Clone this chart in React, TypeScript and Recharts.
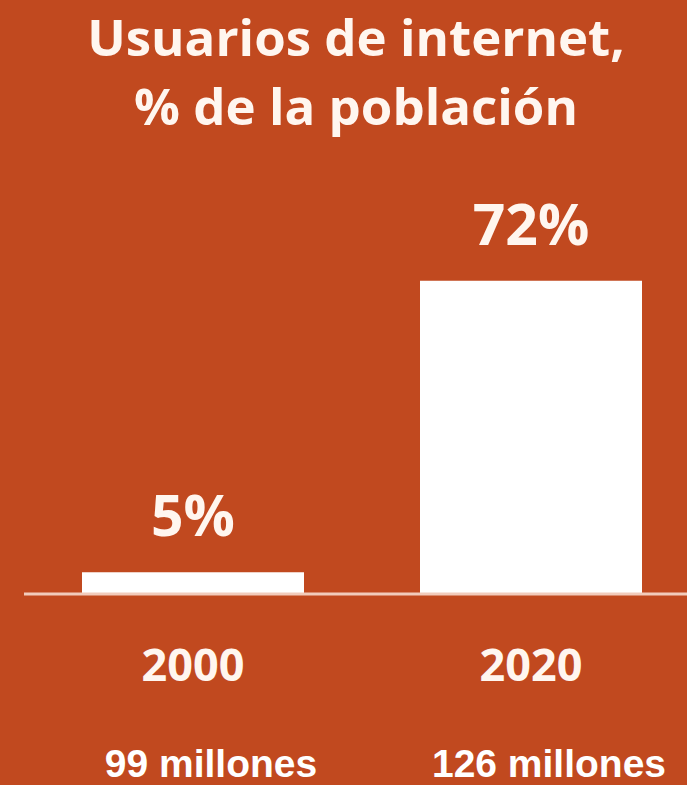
import React from 'react';
import { BarChart, Bar, XAxis, YAxis, LabelList } from 'recharts';

const categories = ['2000', '2020'];
const percentValues = [5, 72];
const populationLabels = ['99 millones', '126 millones'];
const titleLines = ['Usuarios de internet,', '% de la población'];

const data = categories.map((c, i) => ({
  year: c,
  value: percentValues[i],
  population: populationLabels[i],
}));

const BG = '#C1491F';
const TITLE_FONT = '"Open Sans", "DejaVu Sans", sans-serif';
const TEXT_COLOR = '#FFF6EF';

const YearTick = (props: any) => {
  const { x, y, payload, index } = props;
  return (
    <g>
      <text
        x={x}
        y={y + 87}
        textAnchor="middle"
        fill={TEXT_COLOR}
        fontFamily={TITLE_FONT}
        fontWeight={700}
        fontSize={45}
      >
        {payload.value}
      </text>
      <text
        x={x + 18}
        y={y + 183}
        textAnchor="middle"
        fill="#FFFFFF"
        fontFamily='"Liberation Sans", Arial, sans-serif'
        fontWeight={700}
        fontSize={39}
      >
        {populationLabels[index]}
      </text>
    </g>
  );
};

const PctLabel = (props: any) => {
  const { x, y, width, value } = props;
  return (
    <text
      x={x + width / 2}
      y={y - 36}
      textAnchor="middle"
      fill={TEXT_COLOR}
      fontFamily={TITLE_FONT}
      fontWeight={700}
      fontSize={57}
    >
      {`${value}%`}
    </text>
  );
};

export default function App() {
  return (
    <div
      style={{
        position: 'absolute',
        left: 0,
        top: 0,
        width: 687,
        height: 785,
        overflow: 'hidden',
        background: BG,
      }}
    >
      <svg
        width={687}
        height={145}
        style={{ position: 'absolute', left: 0, top: 0 }}
      >
        {titleLines.map((t, i) => (
          <text
            key={t}
            x={356}
            y={56 + i * 69}
            textAnchor="middle"
            fill={TEXT_COLOR}
            fontFamily={TITLE_FONT}
            fontWeight={700}
            fontSize={51}
          >
            {t}
          </text>
        ))}
      </svg>
      <div style={{ position: 'absolute', left: 0, top: 0 }}>
        <BarChart
          width={700}
          height={785}
          data={data}
          margin={{ top: 159, right: 0, bottom: 0, left: 24 }}
        >
          <YAxis hide domain={[0, 100]} />
          <XAxis
            dataKey="year"
            height={191}
            axisLine={{ stroke: '#F2CBBB', strokeWidth: 3 }}
            tickLine={false}
            tickSize={0}
            tickMargin={0}
            tick={<YearTick />}
            interval={0}
          />
          <Bar dataKey="value" fill="#FFFFFF" barSize={222} isAnimationActive={false}>
            <LabelList dataKey="value" content={<PctLabel />} />
          </Bar>
        </BarChart>
      </div>
    </div>
  );
}
